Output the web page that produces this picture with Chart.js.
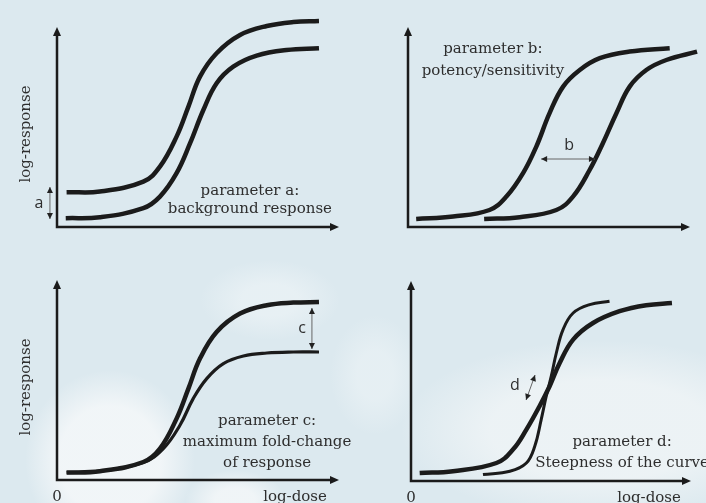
<!DOCTYPE html>
<html>
<head>
<meta charset="utf-8">
<script src="https://cdn.jsdelivr.net/npm/chart.js@4.4.1/dist/chart.umd.min.js"></script>
<style>
  html, body { margin: 0; padding: 0; }
  body {
    width: 706px; height: 503px; overflow: hidden; position: relative;
    background:
      radial-gradient(ellipse 85px 90px at 110px 460px, rgba(242,246,248,0.95) 60%, rgba(242,246,248,0) 100%),
      radial-gradient(ellipse 70px 40px at 270px 300px, rgba(236,243,246,0.7) 40%, rgba(236,243,246,0) 100%),
      radial-gradient(ellipse 45px 60px at 375px 375px, rgba(236,243,246,0.6) 40%, rgba(236,243,246,0) 100%),
      radial-gradient(ellipse 200px 90px at 600px 430px, rgba(239,244,246,0.85) 55%, rgba(239,244,246,0) 100%),
      radial-gradient(ellipse 50px 30px at 235px 500px, rgba(242,246,248,0.9) 40%, rgba(242,246,248,0) 100%),
      #dce9ef;
  }
  .panel { position: absolute; width: 353px; height: 252px; }
</style>
</head>
<body>
<div class="panel" style="left:0;top:0"><canvas id="chartA"></canvas></div>
<div class="panel" style="left:353px;top:0"><canvas id="chartB"></canvas></div>
<div class="panel" style="left:0;top:252px;height:251px"><canvas id="chartC"></canvas></div>
<div class="panel" style="left:353px;top:252px;height:251px"><canvas id="chartD"></canvas></div>
<script>
// log-dose (x) and log-response (y), axis units 0..10
const aHighX = [0.34, 1.52, 3.06, 3.65, 4.24, 4.66, 5.07, 5.66, 6.49, 7.44, 8.38, 9.29];
const aHighY = [1.74, 1.77, 2.27, 3.02, 4.52, 6.02, 7.52, 8.69, 9.60, 10.05, 10.25, 10.3];
const aLowX  = [0.31, 1.52, 3.06, 3.65, 4.24, 4.72, 5.19, 5.66, 6.25, 7.08, 8.14, 9.29];
const aLowY  = [0.44, 0.49, 0.94, 1.52, 2.69, 4.19, 5.85, 7.19, 8.02, 8.57, 8.85, 8.94];

const bLeftX  = [0.29, 1.60, 2.89, 3.49, 4.08, 4.55, 5.02, 5.50, 6.09, 6.80, 7.86, 9.28];
const bLeftY  = [0.40, 0.52, 0.85, 1.52, 2.69, 4.02, 5.69, 7.02, 7.85, 8.44, 8.77, 8.94];
const bRightX = [2.70, 3.96, 5.26, 5.85, 6.44, 6.91, 7.39, 7.86, 8.45, 9.16, 10.25];
const bRightY = [0.40, 0.49, 0.85, 1.52, 2.85, 4.19, 5.69, 7.02, 7.85, 8.35, 8.77];

const cHighX = [0.34, 1.52, 3.06, 3.65, 4.24, 4.66, 5.07, 5.66, 6.49, 7.44, 8.38, 9.29];
const cHighY = [0.37, 0.44, 0.90, 1.57, 3.07, 4.57, 6.07, 7.40, 8.32, 8.74, 8.87, 8.90];
const cLowX  = [0.34, 1.52, 3.06, 3.77, 4.36, 4.83, 5.31, 5.90, 6.61, 7.44, 8.38, 9.29];
const cLowY  = [0.37, 0.44, 0.87, 1.57, 2.74, 4.07, 5.07, 5.82, 6.20, 6.35, 6.40, 6.40];

const dFlatX  = [0.31, 1.50, 3.05, 3.64, 4.12, 4.59, 4.95, 5.31, 5.79, 6.50, 7.45, 8.40, 9.32];
const dFlatY  = [0.40, 0.49, 0.90, 1.57, 2.57, 3.74, 4.74, 5.90, 7.07, 7.90, 8.49, 8.79, 8.90];
const dSteepX = [2.57, 3.53, 4.12, 4.42, 4.65, 4.83, 5.01, 5.19, 5.43, 5.79, 6.38, 7.09];
const dSteepY = [0.32, 0.49, 0.90, 1.74, 3.07, 4.24, 5.24, 6.40, 7.57, 8.40, 8.82, 8.99];

const yTitle = 'log-response';
const xTitle = 'log-dose';
const originLabel = '0';

const serif = '15px "DejaVu Serif", "Liberation Serif", serif';
const sans = '16px "Open Sans", "DejaVu Sans", sans-serif';
const ink = '#1b1b1b';
const textInk = '#2e2e2e';

function points(xs, ys) {
  return xs.map((v, i) => ({ x: v, y: ys[i] }));
}

function arrowHead(ctx, x1, y1, x2, y2, len, half) {
  const ang = Math.atan2(y2 - y1, x2 - x1);
  ctx.beginPath();
  ctx.moveTo(x2, y2);
  ctx.lineTo(x2 - len * Math.cos(ang) + half * Math.sin(ang), y2 - len * Math.sin(ang) - half * Math.cos(ang));
  ctx.lineTo(x2 - len * Math.cos(ang) - half * Math.sin(ang), y2 - len * Math.sin(ang) + half * Math.cos(ang));
  ctx.closePath();
  ctx.fill();
}

// axes with arrows, titles, annotations
const sketch = {
  id: 'sketch',
  beforeDatasetsDraw(chart, args, opts) {
    const { ctx, scales: { x, y } } = chart;
    const x0 = x.getPixelForValue(0), x1 = x.getPixelForValue(10);
    const y0 = y.getPixelForValue(0), y1 = y.getPixelForValue(10);
    ctx.save();
    ctx.strokeStyle = ink;
    ctx.fillStyle = ink;
    ctx.lineWidth = 2.5;
    ctx.beginPath();
    ctx.moveTo(x0, y1 + 6);
    ctx.lineTo(x0, y0);
    ctx.lineTo(x1 - 6, y0);
    ctx.stroke();
    arrowHead(ctx, x0, y0, x0, y1, 9, 4);
    arrowHead(ctx, x0, y0, x1, y0, 9, 4);
    ctx.restore();
  },
  afterDatasetsDraw(chart, args, opts) {
    const { ctx, scales: { x, y } } = chart;
    ctx.save();
    ctx.fillStyle = textInk;
    ctx.textBaseline = 'middle';
    if (opts.showY) {
      ctx.save();
      ctx.font = serif;
      ctx.textAlign = 'center';
      ctx.translate(x.getPixelForValue(0) - 31, y.getPixelForValue(4.65));
      ctx.rotate(-Math.PI / 2);
      ctx.fillText(yTitle, 0, 0);
      ctx.restore();
    }
    if (opts.showX) {
      ctx.font = serif;
      ctx.textAlign = 'center';
      ctx.fillText(originLabel, x.getPixelForValue(0), y.getPixelForValue(-0.85));
      ctx.fillText(xTitle, x.getPixelForValue(opts.xTitleAt), y.getPixelForValue(-0.85));
    }
    (opts.notes || []).forEach(n => {
      ctx.font = n.sans ? sans : serif;
      ctx.textAlign = n.align || 'center';
      ctx.fillText(n.text, x.getPixelForValue(n.x), y.getPixelForValue(n.y));
    });
    (opts.arrows || []).forEach(a => {
      const px1 = x.getPixelForValue(a.x1), py1 = y.getPixelForValue(a.y1);
      const px2 = x.getPixelForValue(a.x2), py2 = y.getPixelForValue(a.y2);
      ctx.strokeStyle = '#666';
      ctx.fillStyle = '#222';
      ctx.lineWidth = 1;
      ctx.beginPath();
      ctx.moveTo(px1, py1);
      ctx.lineTo(px2, py2);
      ctx.stroke();
      arrowHead(ctx, px2, py2, px1, py1, 6, 3);
      arrowHead(ctx, px1, py1, px2, py2, 6, 3);
    });
    ctx.restore();
  }
};

function curve(xs, ys, width) {
  return {
    data: points(xs, ys),
    borderColor: ink,
    borderWidth: width,
    pointRadius: 0,
    tension: 0.4,
    borderCapStyle: 'butt',
    borderJoinStyle: 'round',
    clip: false
  };
}

function makeChart(id, datasets, pad, sketchOpts) {
  return new Chart(document.getElementById(id), {
    type: 'line',
    data: { datasets: datasets },
    options: {
      responsive: true,
      maintainAspectRatio: false,
      animation: false,
      events: [],
      layout: { padding: pad },
      scales: {
        x: { type: 'linear', min: 0, max: 10, display: false },
        y: { type: 'linear', min: 0, max: 10, display: false }
      },
      plugins: { legend: { display: false }, tooltip: { enabled: false }, sketch: sketchOpts }
    },
    plugins: [sketch]
  });
}

makeChart('chartA',
  [curve(aHighX, aHighY, 4.5), curve(aLowX, aLowY, 4.5)],
  { left: 57, right: 14, top: 27, bottom: 25 },
  {
    showY: true,
    notes: [
      { text: 'parameter a:', x: 6.84, y: 1.8 },
      { text: 'background response', x: 6.84, y: 0.9 },
      { text: 'a', x: -0.64, y: 1.2, sans: true }
    ],
    arrows: [{ x1: -0.25, y1: 2.0, x2: -0.25, y2: 0.4 }]
  });

makeChart('chartB',
  [curve(bLeftX, bLeftY, 4.5), curve(bRightX, bRightY, 4.5)],
  { left: 55, right: 16, top: 27, bottom: 25 },
  {
    notes: [
      { text: 'parameter b:', x: 3.01, y: 8.9 },
      { text: 'potency/sensitivity', x: 3.01, y: 7.8 },
      { text: 'b', x: 5.71, y: 4.1, sans: true }
    ],
    arrows: [{ x1: 4.72, y1: 3.4, x2: 6.63, y2: 3.4 }]
  });

makeChart('chartC',
  [curve(cHighX, cHighY, 4.5), curve(cLowX, cLowY, 3.2)],
  { left: 57, right: 14, top: 28, bottom: 23 },
  {
    showY: true, showX: true, xTitleAt: 8.44,
    notes: [
      { text: 'parameter c:', x: 7.45, y: 2.95 },
      { text: 'maximum fold-change', x: 7.45, y: 1.9 },
      { text: 'of response', x: 7.45, y: 0.85 },
      { text: 'c', x: 8.69, y: 7.6, sans: true }
    ],
    arrows: [{ x1: 9.04, y1: 8.6, x2: 9.04, y2: 6.55 }]
  });

makeChart('chartD',
  [curve(dFlatX, dFlatY, 4.5), curve(dSteepX, dSteepY, 3)],
  { left: 58, right: 15, top: 29, bottom: 22 },
  {
    showX: true, xTitleAt: 8.5,
    notes: [
      { text: 'parameter d:', x: 7.54, y: 1.95 },
      { text: 'Steepness of the curve', x: 7.54, y: 0.9 },
      { text: 'd', x: 3.71, y: 4.8, sans: true }
    ],
    arrows: [{ x1: 4.43, y1: 5.3, x2: 4.11, y2: 4.05 }]
  });
</script>
</body>
</html>
